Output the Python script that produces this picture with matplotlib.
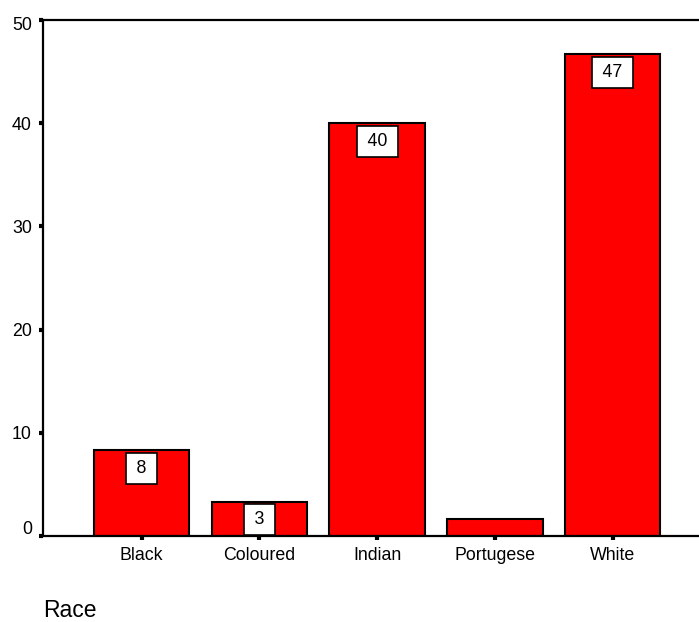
import matplotlib
matplotlib.use("Agg")
import matplotlib.pyplot as plt
import matplotlib.transforms as mtransforms

plt.rcParams['font.family'] = ['Liberation Sans', 'DejaVu Sans']

categories = ["Black", "Coloured", "Indian", "Portugese", "White"]
percent = [8.33, 3.33, 40.0, 1.67, 46.67]
yticks = [0, 10, 20, 30, 40, 50]
show_label = [True, True, True, False, True]

W, H, DPI = 699, 622, 100
fig = plt.figure(figsize=(W / DPI, H / DPI), dpi=DPI)
ax = fig.add_axes([43 / W, 1 - 536 / H, (W - 43) / W, (536 - 20) / H])

x = list(range(len(categories)))
ax.bar(x, percent, width=0.81, color="#ff0000", edgecolor="black", linewidth=1.5, zorder=2)

ax.set_xlim(-0.838, 4.734)
ax.set_ylim(0, 50)
ax.set_xticks(x)
ax.set_xticklabels(categories, fontsize=12.8)
ax.set_yticks(yticks)
ax.set_yticklabels([str(t) for t in yticks], fontsize=12.8)

for side in ("left", "top", "bottom"):
    ax.spines[side].set_linewidth(1.6)
ax.spines["right"].set_visible(False)
ax.tick_params(axis="both", direction="out", length=3, width=3, color="black")
ax.tick_params(axis="y", pad=5)
ax.tick_params(axis="x", pad=5)

# nudge the end labels of the value axis away from the corners
ylabels = ax.get_yticklabels()
ylabels[0].set_transform(ylabels[0].get_transform() +
                         mtransforms.ScaledTranslation(0, 8 / 72 * 0.72, fig.dpi_scale_trans))
ylabels[-1].set_transform(ylabels[-1].get_transform() +
                          mtransforms.ScaledTranslation(0, -4 / 72 * 0.72, fig.dpi_scale_trans))

# boxed value labels hanging just below each bar top
for xi, v, show in zip(x, percent, show_label):
    if not show:
        continue
    ax.annotate(f"\u2009{round(v)}\u2009", xy=(xi, v), xytext=(0, -7), textcoords="offset points",
                ha="center", va="top", fontsize=12.8, zorder=3,
                bbox=dict(boxstyle="square,pad=0.4", facecolor="white",
                          edgecolor="black", linewidth=1.2))

fig.text(43 / W, 1 - 617 / H, "Race", fontsize=16.5, ha="left", va="baseline")

fig.savefig("out.png", dpi=DPI)
